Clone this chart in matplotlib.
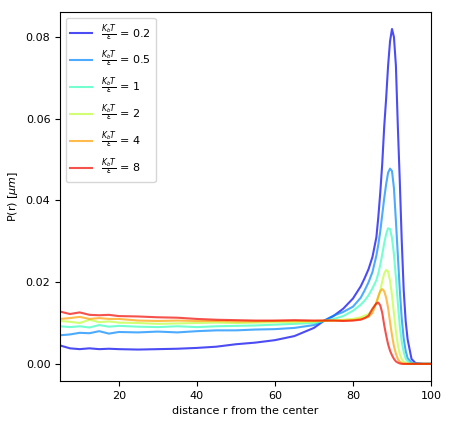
import numpy as np
from matplotlib import pyplot as plt

# radial positions
r = [5, 7.5, 10, 12.5, 15, 17.5, 20, 25, 30, 35, 40, 45, 50, 55, 60, 65, 70,
     72.5, 75, 77.5, 80, 82, 83, 84, 85, 86, 86.5, 87, 87.5, 88, 88.5, 89,
     89.5, 90, 90.5, 91, 91.5, 92, 92.5, 93, 93.5, 94, 95, 96, 98, 100]

temps = ['0.2', '0.5', '1', '2', '4', '8']

p_02 = [0.0045, 0.0038, 0.0036, 0.0038, 0.0036, 0.0037, 0.0036, 0.0035, 0.0036,
        0.0037, 0.0039, 0.0042, 0.0048, 0.0052, 0.0058, 0.0068, 0.0088, 0.0105,
        0.0117, 0.0135, 0.0160, 0.0190, 0.0210, 0.0232, 0.0262, 0.0310, 0.0360,
        0.0420, 0.0490, 0.0580, 0.0650, 0.0730, 0.0790, 0.0820, 0.0800, 0.0730,
        0.0580, 0.0446, 0.0300, 0.0180, 0.0105, 0.0060, 0.0012, 0.0002, 0.0, 0.0]

p_05 = [0.0070, 0.0072, 0.0076, 0.0075, 0.0080, 0.0074, 0.0078, 0.0077, 0.0079,
        0.0077, 0.0080, 0.0082, 0.0082, 0.0084, 0.0085, 0.0088, 0.0095, 0.0105,
        0.0118, 0.0127, 0.0140, 0.0162, 0.0180, 0.0200, 0.0225, 0.0265, 0.0292,
        0.0325, 0.0365, 0.0405, 0.0440, 0.0468, 0.0478, 0.0472, 0.0430, 0.0350,
        0.0265, 0.0180, 0.0110, 0.0062, 0.0032, 0.0014, 0.0003, 0.0, 0.0, 0.0]

p_1 = [0.0092, 0.0090, 0.0092, 0.0089, 0.0095, 0.0091, 0.0093, 0.0091, 0.0090,
       0.0092, 0.0090, 0.0092, 0.0093, 0.0094, 0.0096, 0.0098, 0.0100, 0.0105,
       0.0110, 0.0117, 0.0130, 0.0145, 0.0155, 0.0168, 0.0185, 0.0205, 0.0222,
       0.0243, 0.0268, 0.0295, 0.0318, 0.0332, 0.0330, 0.0308, 0.0268, 0.0212,
       0.0148, 0.0092, 0.0054, 0.0029, 0.0013, 0.0006, 0.0001, 0.0, 0.0, 0.0]

p_2 = [0.0105, 0.0103, 0.0100, 0.0108, 0.0102, 0.0104, 0.0101, 0.0100, 0.0098,
       0.0099, 0.0100, 0.0101, 0.0100, 0.0101, 0.0102, 0.0102, 0.0103, 0.0105,
       0.0106, 0.0108, 0.0110, 0.0114, 0.0118, 0.0122, 0.0133, 0.0150, 0.0162,
       0.0180, 0.0202, 0.0221, 0.0230, 0.0226, 0.0203, 0.0168, 0.0123, 0.0080,
       0.0046, 0.0024, 0.0011, 0.0005, 0.0002, 0.0, 0.0, 0.0, 0.0, 0.0]

p_4 = [0.0110, 0.0112, 0.0115, 0.0110, 0.0112, 0.0110, 0.0110, 0.0106, 0.0105,
       0.0106, 0.0105, 0.0105, 0.0104, 0.0104, 0.0105, 0.0105, 0.0105, 0.0106,
       0.0106, 0.0106, 0.0107, 0.0110, 0.0112, 0.0115, 0.0125, 0.0150, 0.0166,
       0.0178, 0.0183, 0.0178, 0.0162, 0.0137, 0.0102, 0.0070, 0.0043, 0.0025,
       0.0012, 0.0005, 0.0002, 0.0, 0.0, 0.0, 0.0, 0.0, 0.0, 0.0]

p_8 = [0.0128, 0.0122, 0.0126, 0.0120, 0.0119, 0.0120, 0.0117, 0.0116, 0.0114,
       0.0113, 0.0110, 0.0108, 0.0107, 0.0106, 0.0106, 0.0107, 0.0106, 0.0106,
       0.0106, 0.0105, 0.0106, 0.0108, 0.0112, 0.0118, 0.0135, 0.0148, 0.0150,
       0.0143, 0.0125, 0.0095, 0.0070, 0.0048, 0.0032, 0.0021, 0.0012, 0.0006,
       0.0003, 0.0001, 0.0, 0.0, 0.0, 0.0, 0.0, 0.0, 0.0, 0.0]

series = [p_02, p_05, p_1, p_2, p_4, p_8]
colors = plt.cm.jet(np.linspace(0.1, 0.9, len(series)))

fig = plt.figure(figsize=(4.49, 4.21), dpi=100)
ax = fig.add_axes([0.134, 0.095, 0.826, 0.876])

for t, p, c in zip(temps, series, colors):
    ax.plot(r, p, color=c, alpha=0.7, lw=1.5,
            label=r'$\frac{K_bT}{\epsilon}$ = ' + t)

ax.set_xlim(5, 100)
ax.set_ylim(-0.0042, 0.0861)
ax.set_xticks([20, 40, 60, 80, 100])
ax.set_yticks([0.0, 0.02, 0.04, 0.06, 0.08])
ax.set_xlabel('distance r from the center', fontsize=8)
ax.set_ylabel(r'P(r) [$\mu m$]', fontsize=8)
ax.tick_params(labelsize=8)
ax.legend(loc='upper left', fontsize=8, labelspacing=0.5)

plt.savefig('out.png', dpi=100)
